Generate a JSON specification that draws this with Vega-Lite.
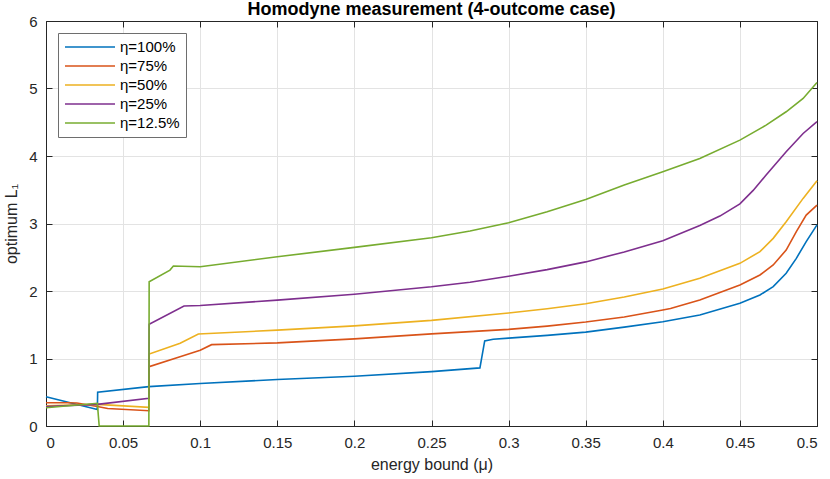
{
  "$schema": "https://vega.github.io/schema/vega-lite/v6.json",
  "autosize": {"type": "none"},
  "padding": {"left": 46, "top": 21, "right": 13, "bottom": 53},
  "width": 771,
  "height": 405,
  "title": {"text": "Homodyne measurement (4-outcome case)", "fontSize": 18, "fontWeight": "bold", "font": "Liberation Sans", "color": "#000000", "offset": 2, "dy": 7},
  "data": {
    "values": [
      {"series": "η=100%", "mu": 0, "L1": 0.434},
      {"series": "η=100%", "mu": 0.0333, "L1": 0.245},
      {"series": "η=100%", "mu": 0.0335, "L1": 0.5},
      {"series": "η=100%", "mu": 0.0667, "L1": 0.583},
      {"series": "η=100%", "mu": 0.1, "L1": 0.629},
      {"series": "η=100%", "mu": 0.15, "L1": 0.688},
      {"series": "η=100%", "mu": 0.2, "L1": 0.737},
      {"series": "η=100%", "mu": 0.25, "L1": 0.805},
      {"series": "η=100%", "mu": 0.2814, "L1": 0.861},
      {"series": "η=100%", "mu": 0.2845, "L1": 1.261},
      {"series": "η=100%", "mu": 0.29, "L1": 1.285},
      {"series": "η=100%", "mu": 0.3, "L1": 1.302},
      {"series": "η=100%", "mu": 0.325, "L1": 1.342},
      {"series": "η=100%", "mu": 0.35, "L1": 1.391},
      {"series": "η=100%", "mu": 0.375, "L1": 1.465},
      {"series": "η=100%", "mu": 0.4, "L1": 1.545},
      {"series": "η=100%", "mu": 0.424, "L1": 1.645},
      {"series": "η=100%", "mu": 0.45, "L1": 1.818},
      {"series": "η=100%", "mu": 0.463, "L1": 1.941},
      {"series": "η=100%", "mu": 0.4716, "L1": 2.065},
      {"series": "η=100%", "mu": 0.48, "L1": 2.262},
      {"series": "η=100%", "mu": 0.4866, "L1": 2.484},
      {"series": "η=100%", "mu": 0.493, "L1": 2.731},
      {"series": "η=100%", "mu": 0.5, "L1": 2.98},

      {"series": "η=75%", "mu": 0, "L1": 0.345},
      {"series": "η=75%", "mu": 0.0138, "L1": 0.345},
      {"series": "η=75%", "mu": 0.02, "L1": 0.34},
      {"series": "η=75%", "mu": 0.0333, "L1": 0.29},
      {"series": "η=75%", "mu": 0.04, "L1": 0.26},
      {"series": "η=75%", "mu": 0.0667, "L1": 0.227},
      {"series": "η=75%", "mu": 0.0669, "L1": 0.879},
      {"series": "η=75%", "mu": 0.0869, "L1": 1.027},
      {"series": "η=75%", "mu": 0.1, "L1": 1.123},
      {"series": "η=75%", "mu": 0.1074, "L1": 1.205},
      {"series": "η=75%", "mu": 0.15, "L1": 1.232},
      {"series": "η=75%", "mu": 0.2, "L1": 1.291},
      {"series": "η=75%", "mu": 0.25, "L1": 1.365},
      {"series": "η=75%", "mu": 0.3, "L1": 1.431},
      {"series": "η=75%", "mu": 0.325, "L1": 1.48},
      {"series": "η=75%", "mu": 0.35, "L1": 1.54},
      {"series": "η=75%", "mu": 0.375, "L1": 1.614},
      {"series": "η=75%", "mu": 0.4, "L1": 1.719},
      {"series": "η=75%", "mu": 0.405, "L1": 1.74},
      {"series": "η=75%", "mu": 0.424, "L1": 1.867},
      {"series": "η=75%", "mu": 0.45, "L1": 2.089},
      {"series": "η=75%", "mu": 0.463, "L1": 2.237},
      {"series": "η=75%", "mu": 0.4716, "L1": 2.385},
      {"series": "η=75%", "mu": 0.48, "L1": 2.607},
      {"series": "η=75%", "mu": 0.4866, "L1": 2.879},
      {"series": "η=75%", "mu": 0.493, "L1": 3.125},
      {"series": "η=75%", "mu": 0.5, "L1": 3.273},

      {"series": "η=50%", "mu": 0, "L1": 0.3},
      {"series": "η=50%", "mu": 0.0333, "L1": 0.32},
      {"series": "η=50%", "mu": 0.0667, "L1": 0.277},
      {"series": "η=50%", "mu": 0.0669, "L1": 1.067},
      {"series": "η=50%", "mu": 0.087, "L1": 1.225},
      {"series": "η=50%", "mu": 0.0988, "L1": 1.363},
      {"series": "η=50%", "mu": 0.15, "L1": 1.42},
      {"series": "η=50%", "mu": 0.2, "L1": 1.484},
      {"series": "η=50%", "mu": 0.25, "L1": 1.565},
      {"series": "η=50%", "mu": 0.3, "L1": 1.673},
      {"series": "η=50%", "mu": 0.325, "L1": 1.738},
      {"series": "η=50%", "mu": 0.35, "L1": 1.812},
      {"series": "η=50%", "mu": 0.375, "L1": 1.911},
      {"series": "η=50%", "mu": 0.4, "L1": 2.03},
      {"series": "η=50%", "mu": 0.424, "L1": 2.188},
      {"series": "η=50%", "mu": 0.45, "L1": 2.41},
      {"series": "η=50%", "mu": 0.463, "L1": 2.583},
      {"series": "η=50%", "mu": 0.4716, "L1": 2.78},
      {"series": "η=50%", "mu": 0.48, "L1": 3.027},
      {"series": "η=50%", "mu": 0.491, "L1": 3.372},
      {"series": "η=50%", "mu": 0.5, "L1": 3.635},

      {"series": "η=25%", "mu": 0, "L1": 0.29},
      {"series": "η=25%", "mu": 0.0333, "L1": 0.32},
      {"series": "η=25%", "mu": 0.0667, "L1": 0.41},
      {"series": "η=25%", "mu": 0.0669, "L1": 1.506},
      {"series": "η=25%", "mu": 0.0895, "L1": 1.778},
      {"series": "η=25%", "mu": 0.1, "L1": 1.785},
      {"series": "η=25%", "mu": 0.15, "L1": 1.865},
      {"series": "η=25%", "mu": 0.2, "L1": 1.953},
      {"series": "η=25%", "mu": 0.25, "L1": 2.062},
      {"series": "η=25%", "mu": 0.275, "L1": 2.13},
      {"series": "η=25%", "mu": 0.3, "L1": 2.218},
      {"series": "η=25%", "mu": 0.325, "L1": 2.317},
      {"series": "η=25%", "mu": 0.35, "L1": 2.431},
      {"series": "η=25%", "mu": 0.375, "L1": 2.579},
      {"series": "η=25%", "mu": 0.4, "L1": 2.745},
      {"series": "η=25%", "mu": 0.424, "L1": 2.97},
      {"series": "η=25%", "mu": 0.437, "L1": 3.11},
      {"series": "η=25%", "mu": 0.45, "L1": 3.29},
      {"series": "η=25%", "mu": 0.4586, "L1": 3.49},
      {"series": "η=25%", "mu": 0.467, "L1": 3.717},
      {"series": "η=25%", "mu": 0.48, "L1": 4.063},
      {"series": "η=25%", "mu": 0.491, "L1": 4.334},
      {"series": "η=25%", "mu": 0.5, "L1": 4.51},

      {"series": "η=12.5%", "mu": 0, "L1": 0.27},
      {"series": "η=12.5%", "mu": 0.0333, "L1": 0.336},
      {"series": "η=12.5%", "mu": 0.0345, "L1": 0},
      {"series": "η=12.5%", "mu": 0.0667, "L1": 0},
      {"series": "η=12.5%", "mu": 0.0669, "L1": 2.138},
      {"series": "η=12.5%", "mu": 0.0804, "L1": 2.31},
      {"series": "η=12.5%", "mu": 0.0826, "L1": 2.37},
      {"series": "η=12.5%", "mu": 0.1, "L1": 2.359},
      {"series": "η=12.5%", "mu": 0.15, "L1": 2.507},
      {"series": "η=12.5%", "mu": 0.2, "L1": 2.646},
      {"series": "η=12.5%", "mu": 0.25, "L1": 2.789},
      {"series": "η=12.5%", "mu": 0.275, "L1": 2.89},
      {"series": "η=12.5%", "mu": 0.3, "L1": 3.01},
      {"series": "η=12.5%", "mu": 0.325, "L1": 3.173},
      {"series": "η=12.5%", "mu": 0.35, "L1": 3.356},
      {"series": "η=12.5%", "mu": 0.375, "L1": 3.569},
      {"series": "η=12.5%", "mu": 0.4, "L1": 3.765},
      {"series": "η=12.5%", "mu": 0.424, "L1": 3.964},
      {"series": "η=12.5%", "mu": 0.45, "L1": 4.235},
      {"series": "η=12.5%", "mu": 0.467, "L1": 4.457},
      {"series": "η=12.5%", "mu": 0.48, "L1": 4.655},
      {"series": "η=12.5%", "mu": 0.491, "L1": 4.852},
      {"series": "η=12.5%", "mu": 0.5, "L1": 5.09}
    ]
  },
  "layer": [
    {
      "mark": {"type": "line", "strokeWidth": 1.6, "clip": false},
      "encoding": {
        "x": {
          "field": "mu", "type": "quantitative",
          "scale": {"domain": [0, 0.5], "nice": false},
          "axis": {"orient": "bottom", "title": "energy bound (μ)", "values": [0, 0.05, 0.1, 0.15, 0.2, 0.25, 0.3, 0.35, 0.4, 0.45, 0.5], "format": "~g", "titlePadding": 6}
        },
        "y": {
          "field": "L1", "type": "quantitative",
          "scale": {"domain": [0, 6], "nice": false},
          "axis": {"orient": "left", "title": "optimum  L₁", "values": [0, 1, 2, 3, 4, 5, 6], "titlePadding": 9}
        },
        "color": {
          "field": "series", "type": "nominal",
          "sort": ["η=100%", "η=75%", "η=50%", "η=25%", "η=12.5%"],
          "scale": {"domain": ["η=100%", "η=75%", "η=50%", "η=25%", "η=12.5%"], "range": ["#0072BD", "#D95319", "#EDB120", "#7E2F8E", "#77AC30"]},
          "legend": {
            "title": null, "orient": "top-left", "offset": 12,
            "symbolType": "stroke", "symbolSize": 2500, "symbolStrokeWidth": 1.6,
            "clipHeight": 16, "rowPadding": 3, "labelFontSize": 15, "labelFont": "Liberation Sans",
            "labelColor": "#000000", "padding": 6,
            "fillColor": "#ffffff", "strokeColor": "#6e6e6e"
          }
        }
      }
    },
    {
      "mark": {"type": "line", "opacity": 0},
      "encoding": {
        "x": {"field": "mu", "type": "quantitative", "axis": {"orient": "top", "labels": false, "title": null, "grid": false, "values": [0, 0.05, 0.1, 0.15, 0.2, 0.25, 0.3, 0.35, 0.4, 0.45, 0.5]}},
        "y": {"field": "L1", "type": "quantitative", "axis": {"orient": "right", "labels": false, "title": null, "grid": false, "values": [0, 1, 2, 3, 4, 5, 6]}},
        "detail": {"field": "series"}
      }
    }
  ],
  "resolve": {"axis": {"x": "independent", "y": "independent"}},
  "config": {
    "view": {"stroke": "#262626", "strokeWidth": 1},
    "axis": {
      "labelFont": "Liberation Sans", "titleFont": "Liberation Sans",
      "labelFontSize": 15, "titleFontSize": 16, "titleFontWeight": "normal",
      "labelColor": "#262626", "titleColor": "#262626",
      "domainColor": "#262626", "tickColor": "#262626",
      "tickSize": -6, "labelPadding": 15,
      "gridColor": "#e3e3e3", "gridWidth": 1
    }
  }
}
